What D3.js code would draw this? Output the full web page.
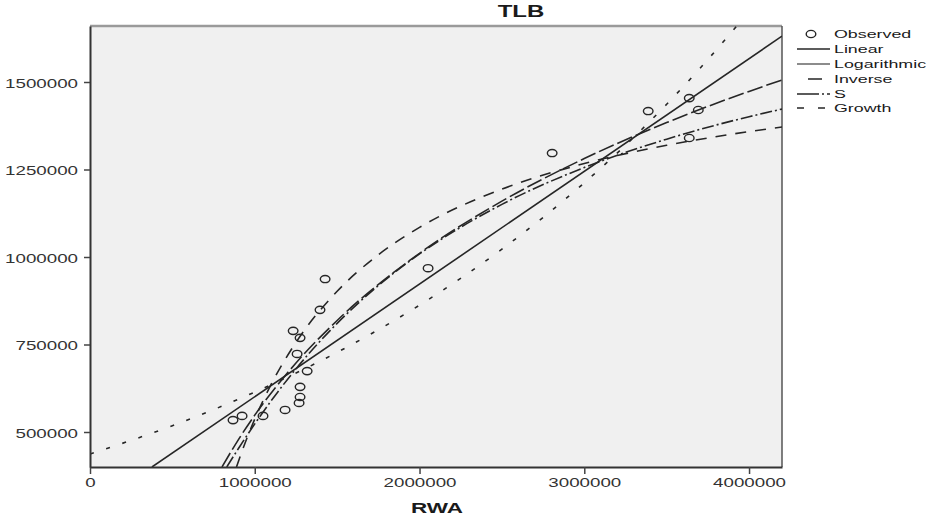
<!DOCTYPE html>
<html>
<head>
<meta charset="utf-8">
<script src="https://cdn.jsdelivr.net/npm/d3@7"></script>
<style>
  body { margin: 0; background: #fff; }
  svg { display: block; font-family: "Liberation Sans", Arial, sans-serif; }
</style>
</head>
<body>
<div id="chartContainer"></div>
<script>
// Observed points (RWA, TLB)
const obsRWA = [868000, 923000, 1050000, 1184000, 1269000, 1275000, 1275000, 1318000, 1257000, 1275000,
                1233000, 1396000, 1427000, 2052000, 2805000, 3388000, 3637000, 3692000, 3637000];
const obsTLB = [534000, 546000, 546000, 563000, 583000, 600000, 629000, 674000, 723000, 769000,
                789000, 849000, 937000, 968000, 1297000, 1417000, 1454000, 1420000, 1340000];

// Fitted curves
const linX = [376000, 4200000];
const linY = [400000, 1631000];

const logX = [801000, 900000, 1000000, 1250000, 1500000, 2000000, 2500000, 3000000, 3500000, 4000000, 4200000];
const logY = [400000, 477700, 548100, 697000, 818700, 1010600, 1159500, 1281200, 1384100, 1473200, 1505700];

const invX = [889000, 950000, 1000000, 1100000, 1250000, 1500000, 1750000, 2000000, 2500000, 3000000, 3500000, 4000000, 4200000];
const invY = [400000, 479400, 537000, 636500, 756000, 902000, 1006300, 1084500, 1194000, 1267000, 1319100, 1358300, 1371300];

const sX = [830000, 900000, 1000000, 1100000, 1250000, 1500000, 1750000, 2000000, 2500000, 3000000, 3500000, 4000000, 4200000];
const sY = [400000, 452100, 523100, 589400, 680300, 810400, 918400, 1008700, 1150400, 1255700, 1336700, 1400900, 1422600];

const growX = [0, 500000, 1000000, 1500000, 2000000, 2500000, 3000000, 3500000, 3900000, 4000000];
const growY = [437000, 518000, 614000, 727600, 862500, 1022500, 1212000, 1436500, 1646000, 1702600];

const xTicks = [0, 1000000, 2000000, 3000000, 4000000];
const yTicks = [500000, 750000, 1000000, 1250000, 1500000];

const legendNames = ["Observed", "Linear", "Logarithmic", "Inverse", "S", "Growth"];

function createChart() {
    const width = 926, height = 522;
    const left = 90, right = 782, top = 26, bottom = 467;
    const ink = "#262626";
    const k = 1.5; // text in the picture is stretched sideways

    const x = d3.scaleLinear().domain([0, 4200000]).range([left, right]);
    const y = d3.scaleLinear().domain([400000, 1660000]).range([bottom, top]);

    const svg = d3.create("svg")
        .attr("width", width)
        .attr("height", height)
        .attr("viewBox", `0 0 ${width} ${height}`);

    svg.append("defs").append("clipPath")
        .attr("id", "plotClip")
        .append("rect")
        .attr("x", left).attr("y", top)
        .attr("width", right - left).attr("height", bottom - top);

    // Plot background
    svg.append("rect")
        .attr("x", left).attr("y", top)
        .attr("width", right - left).attr("height", bottom - top)
        .attr("fill", "#f0f0f0");

    // Frame: gray top, dark right
    svg.append("line")
        .attr("x1", left).attr("x2", right).attr("y1", top).attr("y2", top)
        .attr("stroke", "#9a9a9a").attr("stroke-width", 2.5);
    svg.append("line")
        .attr("x1", right).attr("x2", right).attr("y1", top).attr("y2", bottom)
        .attr("stroke", "#555").attr("stroke-width", 1.5);

    // Curves
    const series = [
        { name: "Linear", xs: linX, ys: linY, dash: null, key: null },
        { name: "Logarithmic", xs: logX, ys: logY, dash: "16,4", key: null },
        { name: "Inverse", xs: invX, ys: invY, dash: "11,9", key: "0,11,14,40" },
        { name: "S", xs: sX, ys: sY, dash: "12,3,2,3", key: "22,3,2,3,12" },
        { name: "Growth", xs: growX, ys: growY, dash: "4,13", key: "7,14,7,40" }
    ];

    const line = d3.line()
        .x(d => x(d[0]))
        .y(d => y(d[1]))
        .curve(d3.curveMonotoneX);

    svg.append("g")
        .attr("clip-path", "url(#plotClip)")
        .selectAll("path")
        .data(series)
        .join("path")
        .attr("d", s => line(d3.zip(s.xs, s.ys)))
        .attr("fill", "none")
        .attr("stroke", ink)
        .attr("stroke-width", 1.6)
        .attr("stroke-dasharray", s => s.dash);

    // Observed points
    svg.append("g")
        .selectAll("ellipse")
        .data(d3.zip(obsRWA, obsTLB))
        .join("ellipse")
        .attr("cx", d => x(d[0]))
        .attr("cy", d => y(d[1]))
        .attr("rx", 4.8)
        .attr("ry", 3.6)
        .attr("fill", "none")
        .attr("stroke", ink)
        .attr("stroke-width", 1.4);

    // Axes
    const xAxis = svg.append("g")
        .attr("transform", `translate(0,${bottom})`)
        .call(d3.axisBottom(x).tickValues(xTicks).tickFormat(d3.format("d"))
            .tickSize(7).tickSizeOuter(0).tickPadding(4));
    const yAxis = svg.append("g")
        .attr("transform", `translate(${left},0)`)
        .call(d3.axisLeft(y).tickValues(yTicks).tickFormat(d3.format("d"))
            .tickSize(6).tickSizeOuter(0).tickPadding(6));

    [xAxis, yAxis].forEach(g => {
        g.select(".domain").attr("stroke", "#333").attr("stroke-width", 2);
        g.selectAll(".tick line").attr("stroke", "#444").attr("stroke-width", 1.5);
        g.selectAll(".tick text")
            .attr("fill", "#333")
            .style("font-size", "12.5px")
            .style("font-family", "'Liberation Sans', Arial, sans-serif")
            .each(function () {
                const t = d3.select(this);
                t.attr("x", (+t.attr("x") || 0) / k).attr("transform", `scale(${k},1)`);
            });
    });
    yAxis.selectAll(".tick text").attr("dy", "0.4em");

    // Stretched text helper
    function label(txt, px, py, size, weight, anchor) {
        svg.append("text")
            .attr("x", px / k).attr("y", py)
            .attr("transform", `scale(${k},1)`)
            .attr("text-anchor", anchor)
            .attr("font-size", size)
            .attr("font-weight", weight)
            .attr("fill", "#1a1a1a")
            .text(txt);
    }

    label("TLB", 521, 17, 16, "bold", "middle");
    label("RWA", 437, 513, 15, "bold", "middle");

    // Legend
    const legendY = [34, 49, 64, 79, 94, 108];
    legendNames.forEach((name, i) => {
        const ly = legendY[i];
        if (i === 0) {
            svg.append("ellipse")
                .attr("cx", 811).attr("cy", ly)
                .attr("rx", 4.8).attr("ry", 3.6)
                .attr("fill", "none").attr("stroke", ink).attr("stroke-width", 1.4);
        } else {
            const s = series[i - 1];
            svg.append("line")
                .attr("x1", 797).attr("x2", 830).attr("y1", ly).attr("y2", ly)
                .attr("stroke", i === 2 ? "#666" : ink).attr("stroke-width", 1.6)
                .attr("stroke-dasharray", s.key);
        }
        svg.append("text")
            .attr("x", 834 / 1.55).attr("y", ly + 4)
            .attr("transform", "scale(1.55,1)")
            .attr("font-size", 11.5)
            .attr("fill", "#1a1a1a")
            .text(name);
    });

    return svg.node();
}

document.getElementById("chartContainer").appendChild(createChart());
</script>
</body>
</html>
